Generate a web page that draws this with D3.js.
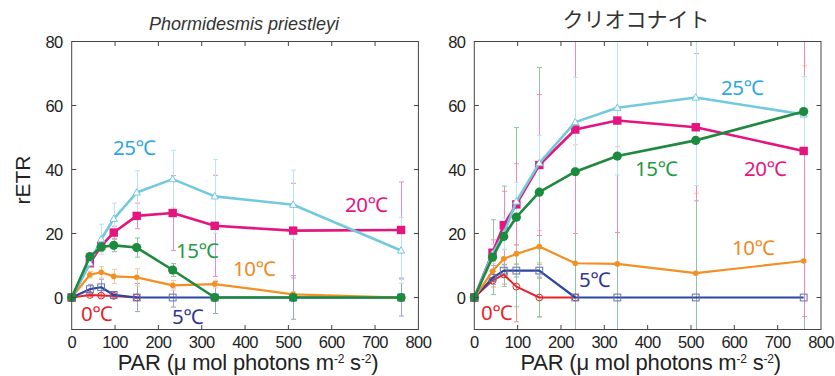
<!DOCTYPE html>
<html><head><meta charset="utf-8">
<script src="https://cdn.jsdelivr.net/npm/d3@7"></script>
<style>body{margin:0;background:#fff}svg{display:block}</style>
</head><body>
<svg id="c" width="835" height="376"></svg>
<script>
// ---------------- DATA ----------------
const par = [0, 42, 68, 97, 150, 233, 330, 511, 760];
const xTicks = [0, 100, 200, 300, 400, 500, 600, 700, 800];
const yTicks = [0, 20, 40, 60, 80];
const seriesNames = ["0℃", "5℃", "10℃", "15℃", "20℃", "25℃"];
const titles = ["Phormidesmis priestleyi", "クリオコナイト"];

// Left panel: Phormidesmis priestleyi (null = point not shown)
const pp0  = [0, 0.8, 0.6, 0.5, 0, null, null, null, null];
const pp0E = [0, 0.5, 0.5, 0.5, 0.3, 0, 0, 0, 0];
const pp5  = [0, 2.6, 3.2, 0.8, 0, 0, 0, 0, 0];
const pp5E = [0, 1.5, 2.5, 1.0, 4.4, 3.0, 5.0, 6.8, 5.8];
const pp10  = [0, 7.1, 7.9, 6.6, 6.3, 3.8, 4.2, 1.0, 0];
const pp10E = [0, 1.0, 1.8, 2.2, 2.7, 1.5, 1.2, 0.8, 0.5];
const pp15  = [0, 12.8, 15.8, 16.3, 15.6, 8.6, 0, 0, 0];
const pp15E = [0, 1.0, 1.5, 2.0, 3.0, 2.0, 0.5, 0.5, 0.5];
const pp20  = [0, 10.7, 16.1, 20.3, 25.5, 26.4, 22.4, 20.9, 21.1];
const pp20E = [0, 1.0, 1.5, 2.0, 4.0, 11.7, 15.8, 14.8, 15.0];
const pp25  = [0, 10.7, 18.2, 24.6, 32.8, 37.0, 31.6, 29.0, 14.7];
const pp25E = [0, 1.0, 4.7, 4.9, 6.8, 9.0, 11.5, 10.8, 10.3];

// Right panel: クリオコナイト
const cr0  = [0, 5.3, 7.2, 3.4, 0, 0, null, null, null];
const cr0E = [0, 2.0, 3.0, 11.0, 6.0, 0, 0, 0, 0];
const cr5  = [0, 6.1, 8.4, 8.4, 8.4, 0, 0, 0, 0];
const cr5E = [0, 2.0, 2.0, 2.0, 2.0, 0, 0, 0, 0];
const cr10  = [0, 8.2, 12.1, 13.6, 15.9, 10.7, 10.5, 7.6, 11.4];
const cr10E = [0, 3.0, 3.0, 3.0, 5.0, 37.0, 36.7, 25.0, 61.0];
const cr15  = [0, 12.6, 19.1, 25.1, 32.9, 39.3, 44.2, 49.1, 58.1];
const cr15E = [0, 11.7, 15.7, 28.0, 39.0, 50.0, 56.0, 65.0, 75.0];
const cr20  = [0, 14.0, 22.6, 29.1, 41.4, 52.5, 55.3, 53.2, 45.8];
const cr20E = [0, 4.0, 10.6, 12.7, 22.0, 32.5, 35.0, 23.0, 51.7];
const cr25  = [0, 13.6, 19.9, 30.0, 42.0, 54.8, 59.3, 62.5, 57.2];
const cr25E = [0, 3.0, 5.0, 6.0, 8.7, 14.0, 21.0, 27.5, 11.8];

// ---------------- STYLE ----------------
const style = {
  "0℃":  {line: "#e4252b", label: "#e4252b", marker: "circleOpen", lw: 2},
  "5℃":  {line: "#2c479f", label: "#2f3592", marker: "squareOpen", lw: 2.2},
  "10℃": {line: "#f39024", label: "#f08a1e", marker: "dot", lw: 2.2},
  "15℃": {line: "#1d8a3f", label: "#1f9a46", marker: "circle", lw: 2.6},
  "20℃": {line: "#e3157f", label: "#e3157f", marker: "square", lw: 2.6},
  "25℃": {line: "#72c9e0", label: "#2ea7de", marker: "triangleOpen", lw: 2.6}
};

const panels = [
  {left: 71.7, right: 418.4, title: titles[0], italic: true, yTitle: true,
   data: {"0℃": [pp0, pp0E], "5℃": [pp5, pp5E], "10℃": [pp10, pp10E], "15℃": [pp15, pp15E], "20℃": [pp20, pp20E], "25℃": [pp25, pp25E]},
   order: ["0℃", "5℃", "10℃", "20℃", "25℃", "15℃"],
   labels: {"25℃": [113, 155], "20℃": [345, 212], "15℃": [176, 258], "10℃": [233, 276], "0℃": [81, 321], "5℃": [172, 324]}},
  {left: 474.3, right: 821, title: titles[1], italic: false, yTitle: false,
   data: {"0℃": [cr0, cr0E], "5℃": [cr5, cr5E], "10℃": [cr10, cr10E], "15℃": [cr15, cr15E], "20℃": [cr20, cr20E], "25℃": [cr25, cr25E]},
   order: ["0℃", "5℃", "10℃", "20℃", "25℃", "15℃"],
   labels: {"25℃": [721, 95], "20℃": [744, 176], "15℃": [635, 176], "10℃": [732, 255], "0℃": [481, 320], "5℃": [579, 287]}}
];
const errOrder = ["0℃", "5℃", "10℃", "15℃", "20℃", "25℃"];

const plotTop = 41.5, plotBottom = 329.5;
const svg = d3.select("#c");
const numFont = "'Liberation Sans', Arial, sans-serif";
const lblFont = "'Noto Sans', 'Open Sans', sans-serif";

panels.forEach((p, pi) => {
  const x = d3.scaleLinear().domain([0, 800]).range([p.left, p.right]);
  const y = d3.scaleLinear().domain([-10, 80]).range([plotBottom, plotTop]);
  const g = svg.append("g");
  const clipId = "clip" + pi;
  svg.append("clipPath").attr("id", clipId).append("rect")
    .attr("x", p.left).attr("y", plotTop).attr("width", p.right - p.left).attr("height", plotBottom - plotTop);

  // error bars (light opaque tints, pixel-snapped)
  const eg = g.append("g").attr("clip-path", `url(#${clipId})`);
  errOrder.forEach(s => {
    const [vals, errs] = p.data[s];
    const col = d3.interpolateRgb(style[s].line, "#fff")(0.5);
    par.forEach((px, i) => {
      const e = errs[i];
      if (!e || vals[i] == null) return;
      const cx = Math.round(x(px)) + 0.5, y1 = y(vals[i] - e), y2 = y(vals[i] + e);
      eg.append("line").attr("x1", cx).attr("x2", cx).attr("y1", y1).attr("y2", y2)
        .attr("stroke", col).attr("stroke-width", 1);
      [y1, y2].forEach(yy => eg.append("line").attr("x1", cx - 2.5).attr("x2", cx + 2.5)
        .attr("y1", yy).attr("y2", yy).attr("stroke", col).attr("stroke-width", 1));
    });
  });

  // lines and markers
  const line = d3.line().defined(d => d != null).x((d, i) => x(par[i])).y(d => y(d));
  p.order.forEach(s => {
    const [vals] = p.data[s];
    const st = style[s];
    g.append("path").datum(vals).attr("d", line).attr("fill", "none")
      .attr("stroke", st.line).attr("stroke-width", st.lw).attr("stroke-linejoin", "round");
    const mg = g.append("g");
    vals.forEach((v, i) => {
      if (v == null) return;
      const cx = x(par[i]), cy = y(v);
      if (st.marker === "circle") mg.append("circle").attr("cx", cx).attr("cy", cy).attr("r", 4.6).attr("fill", st.line);
      else if (st.marker === "dot") mg.append("circle").attr("cx", cx).attr("cy", cy).attr("r", 2.8).attr("fill", st.line);
      else if (st.marker === "circleOpen") mg.append("circle").attr("cx", cx).attr("cy", cy).attr("r", 3.4).attr("fill", "none").attr("stroke", st.line).attr("stroke-width", 1);
      else if (st.marker === "square") mg.append("rect").attr("x", cx - 4.2).attr("y", cy - 4.2).attr("width", 8.4).attr("height", 8.4).attr("fill", st.line);
      else if (st.marker === "squareOpen") mg.append("rect").attr("x", cx - 3.4).attr("y", cy - 3.4).attr("width", 6.8).attr("height", 6.8).attr("fill", "none").attr("stroke", "#6470b8").attr("stroke-width", 1);
      else if (st.marker === "triangleOpen") mg.append("path").attr("d", `M${cx},${cy - 3.8}L${cx + 3.6},${cy + 2.6}L${cx - 3.6},${cy + 2.6}Z`).attr("fill", "#fff").attr("stroke", st.line).attr("stroke-width", 1);
    });
  });

  // frame & ticks
  g.append("rect").attr("x", p.left).attr("y", plotTop).attr("width", p.right - p.left).attr("height", plotBottom - plotTop)
    .attr("fill", "none").attr("stroke", "#444").attr("stroke-width", 1);
  const tl = 4.5;
  xTicks.forEach(t => {
    if (t === 0 || t === 800) return;
    g.append("line").attr("x1", x(t)).attr("x2", x(t)).attr("y1", plotBottom).attr("y2", plotBottom - tl).attr("stroke", "#444");
    g.append("line").attr("x1", x(t)).attr("x2", x(t)).attr("y1", plotTop).attr("y2", plotTop + tl).attr("stroke", "#444");
  });
  yTicks.forEach(t => {
    if (t === 80) return;
    g.append("line").attr("x1", p.left).attr("x2", p.left + tl).attr("y1", y(t)).attr("y2", y(t)).attr("stroke", "#444");
    g.append("line").attr("x1", p.right).attr("x2", p.right - tl).attr("y1", y(t)).attr("y2", y(t)).attr("stroke", "#444");
  });
  // tick labels
  xTicks.forEach(t => g.append("text").attr("x", x(t)).attr("y", 348).attr("text-anchor", "middle")
    .attr("font-family", numFont).attr("font-size", 16.5).attr("letter-spacing", -0.6).attr("fill", "#222").text(t));
  yTicks.forEach(t => g.append("text").attr("x", p.left - 9).attr("y", y(t) + 6).attr("text-anchor", "end")
    .attr("font-family", numFont).attr("font-size", 16.5).attr("letter-spacing", -0.6).attr("fill", "#222").text(t));

  // x title
  const xt = g.append("text").attr("x", (p.left + p.right) / 2 + 3).attr("y", 370).attr("text-anchor", "middle")
    .attr("font-family", numFont).attr("font-size", 22).attr("letter-spacing", -0.2).attr("fill", "#222");
  xt.append("tspan").text("PAR (μ mol photons m");
  xt.append("tspan").attr("font-size", 12).attr("dy", -7).text("-2");
  xt.append("tspan").attr("dy", 7).text(" s");
  xt.append("tspan").attr("font-size", 12).attr("dy", -7).text("-2");
  xt.append("tspan").attr("dy", 7).text(")");

  // title
  g.append("text").attr("x", pi === 0 ? 244 : 636).attr("y", pi === 0 ? 30 : 27).attr("text-anchor", "middle")
    .attr("font-family", pi === 0 ? numFont : "'Noto Sans CJK JP', sans-serif")
    .attr("font-style", p.italic ? "italic" : "normal").attr("font-weight", 400)
    .attr("font-size", pi === 0 ? 18 : 21).attr("fill", "#333").text(p.title);

  if (p.yTitle) {
    g.append("text").attr("transform", "translate(30,180) rotate(-90)").attr("text-anchor", "middle")
      .attr("font-family", numFont).attr("font-size", 21).attr("fill", "#222").text("rETR");
  }

  // series labels
  seriesNames.forEach(s => {
    const [lx, ly] = p.labels[s];
    g.append("text").attr("x", lx).attr("y", ly).attr("font-family", lblFont)
      .attr("font-size", 20.5).attr("letter-spacing", -0.5).attr("fill", style[s].label).text(s);
  });
});
</script>
</body></html>
